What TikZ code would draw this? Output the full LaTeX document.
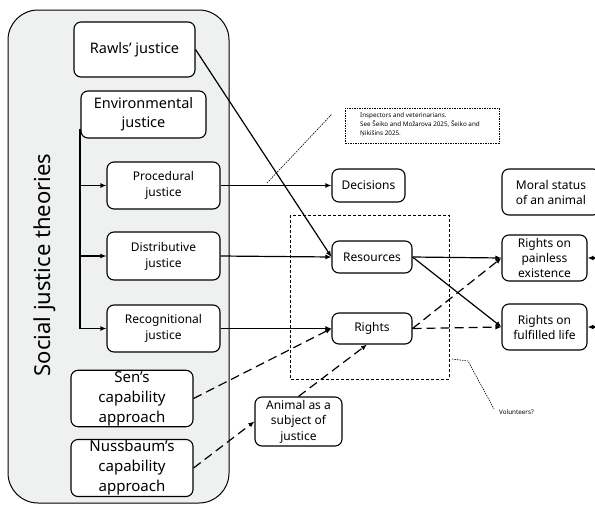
\documentclass[tikz,border=0pt]{standalone}
\usepackage{fontspec}
\setmainfont{Noto Sans}
\usetikzlibrary{arrows.meta,calc}
\definecolor{panel}{HTML}{EFF1F0}
\tikzset{
  box/.style={draw=black, line width=1.1pt, rounded corners=7pt, fill=white, align=center, inner sep=1pt},
  big/.style={font=\fontsize{14.5}{19}\selectfont},
  mid/.style={font=\fontsize{12}{16}\selectfont},
  conn/.style={line width=1.2pt, -{Latex[length=6pt,width=5pt]}},
  dconn/.style={conn, dash pattern=on 9pt off 5pt},
  dots/.style={line width=0.6pt, dash pattern=on 1.5pt off 1pt},
}
\begin{document}
\begin{tikzpicture}[x=1pt,y=-1pt]
\useasboundingbox (0,0) rectangle (595,504);
\clip (0,0) rectangle (595,504);
% panel
\draw[line width=1pt, fill=panel, rounded corners=30pt] (8,10) rectangle (229,503);
\node[rotate=90, font=\fontsize{22}{26}\selectfont] (title) at (45,265) {Social justice theories};
% left boxes
\node[box,big,minimum width=121pt,minimum height=55pt] (rawls) at (134.5,49.5) {Rawls’ justice};
\node[box,big,minimum width=125pt,minimum height=47pt] (env) at (143.5,114.5) {Environmental\\justice};
\node[box,mid,minimum width=113pt,minimum height=47pt] (proc) at (163.5,185.5) {Procedural\\justice};
\node[box,mid,minimum width=113pt,minimum height=48pt] (dist) at (163.5,256) {Distributive\\justice};
\node[box,mid,minimum width=113pt,minimum height=47pt] (recog) at (163.5,328.5) {Recognitional\\justice};
\node[box,font=\fontsize{15}{20}\selectfont,minimum width=122pt,minimum height=55pt] (sen) at (132,398.5) {Sen’s\\capability\\approach};
\node[box,font=\fontsize{15}{20}\selectfont,minimum width=122pt,minimum height=56pt] (nuss) at (132,468) {Nussbaum’s\\capability\\approach};
% middle boxes
\node[box,mid,minimum width=73pt,minimum height=33pt] (dec) at (368.5,185.5) {Decisions};
\node[box,mid,minimum width=80pt,minimum height=32pt] (res) at (372,257) {Resources};
\node[box,mid,minimum width=80pt,minimum height=31pt] (rights) at (372,328.5) {Rights};
\node[box,font=\fontsize{12}{15.5}\selectfont,minimum width=87pt,minimum height=49pt] (animal) at (298.5,421.5) {Animal as a\\subject of\\justice};
% right boxes
\node[box,font=\fontsize{12}{15}\selectfont,minimum width=98pt,minimum height=46pt] (moral) at (551,192) {Moral status\\of an animal};
\node[box,font=\fontsize{12}{15}\selectfont,minimum width=85pt,minimum height=46pt] (pain) at (544.5,258) {Rights on\\painless\\existence};
\node[box,font=\fontsize{12}{15}\selectfont,minimum width=85pt,minimum height=46pt] (full) at (544.5,327) {Rights on\\fulfilled life};
% dashed group box
\draw[line width=0.8pt, dash pattern=on 3pt off 2pt] (290,215) rectangle (449,379);
% note
\node[draw, dots, minimum width=154pt, minimum height=35pt, anchor=north west] (note) at (345,108) {};
\node[anchor=north west, align=left, font=\fontsize{6.3}{8.6}\selectfont, inner sep=0pt] (notetext) at (360,113) {Inspectors and veterinarians.\\See Šeiko and Možarova 2025, Šeiko and\\Ņikišins 2025.};
\coordinate (nA) at (267,183);
\coordinate (nB) at (332,114);
\draw[dots] (nA) -- (nB);
% volunteers
\node[anchor=west, font=\fontsize{6.3}{8}\selectfont, inner sep=0pt] (vol) at (499,412) {Volunteers?};
\coordinate (v1) at (452,359);
\coordinate (v2) at (468,361);
\coordinate (v3) at (494,409);
\draw[dots] (v1) -- (v2) -- (v3);
% environmental tree
\coordinate (e0) at ($(env.south west)+(0,-10)$);
\draw[line width=2pt] (e0) -- (env.south west |- recog.west);
\draw[conn] (env.south west |- proc.west) -- (proc.west);
\draw[conn] (env.south west |- dist.west) -- (dist.west);
\draw[conn] (env.south west |- recog.west) -- (recog.west);
% connectors
\draw[conn] (rawls.east) -- (res.west);
\draw[conn] (proc.east) -- (dec.west);
\draw[conn] (dist.east) -- (res.west);
\draw[conn] (recog.east) -- (rights.west);
\draw[dconn] (sen.east) -- (rights.west);
\draw[dconn] (nuss.east) -- (animal.west);
\draw[dconn] (animal.north) -- ($(rights.south)+(-5,0)$);
\draw[conn] (res.east) -- (pain.west);
\draw[conn] (res.east) -- (full.west);
\draw[dconn] (rights.east) -- (pain.west);
\draw[dconn] (rights.east) -- (full.west);
\coordinate (r1) at (610,258);
\coordinate (r2) at (610,327);
\draw[conn] (r1) -- (pain.east);
\draw[conn] (r2) -- (full.east);
\end{tikzpicture}
\end{document}
